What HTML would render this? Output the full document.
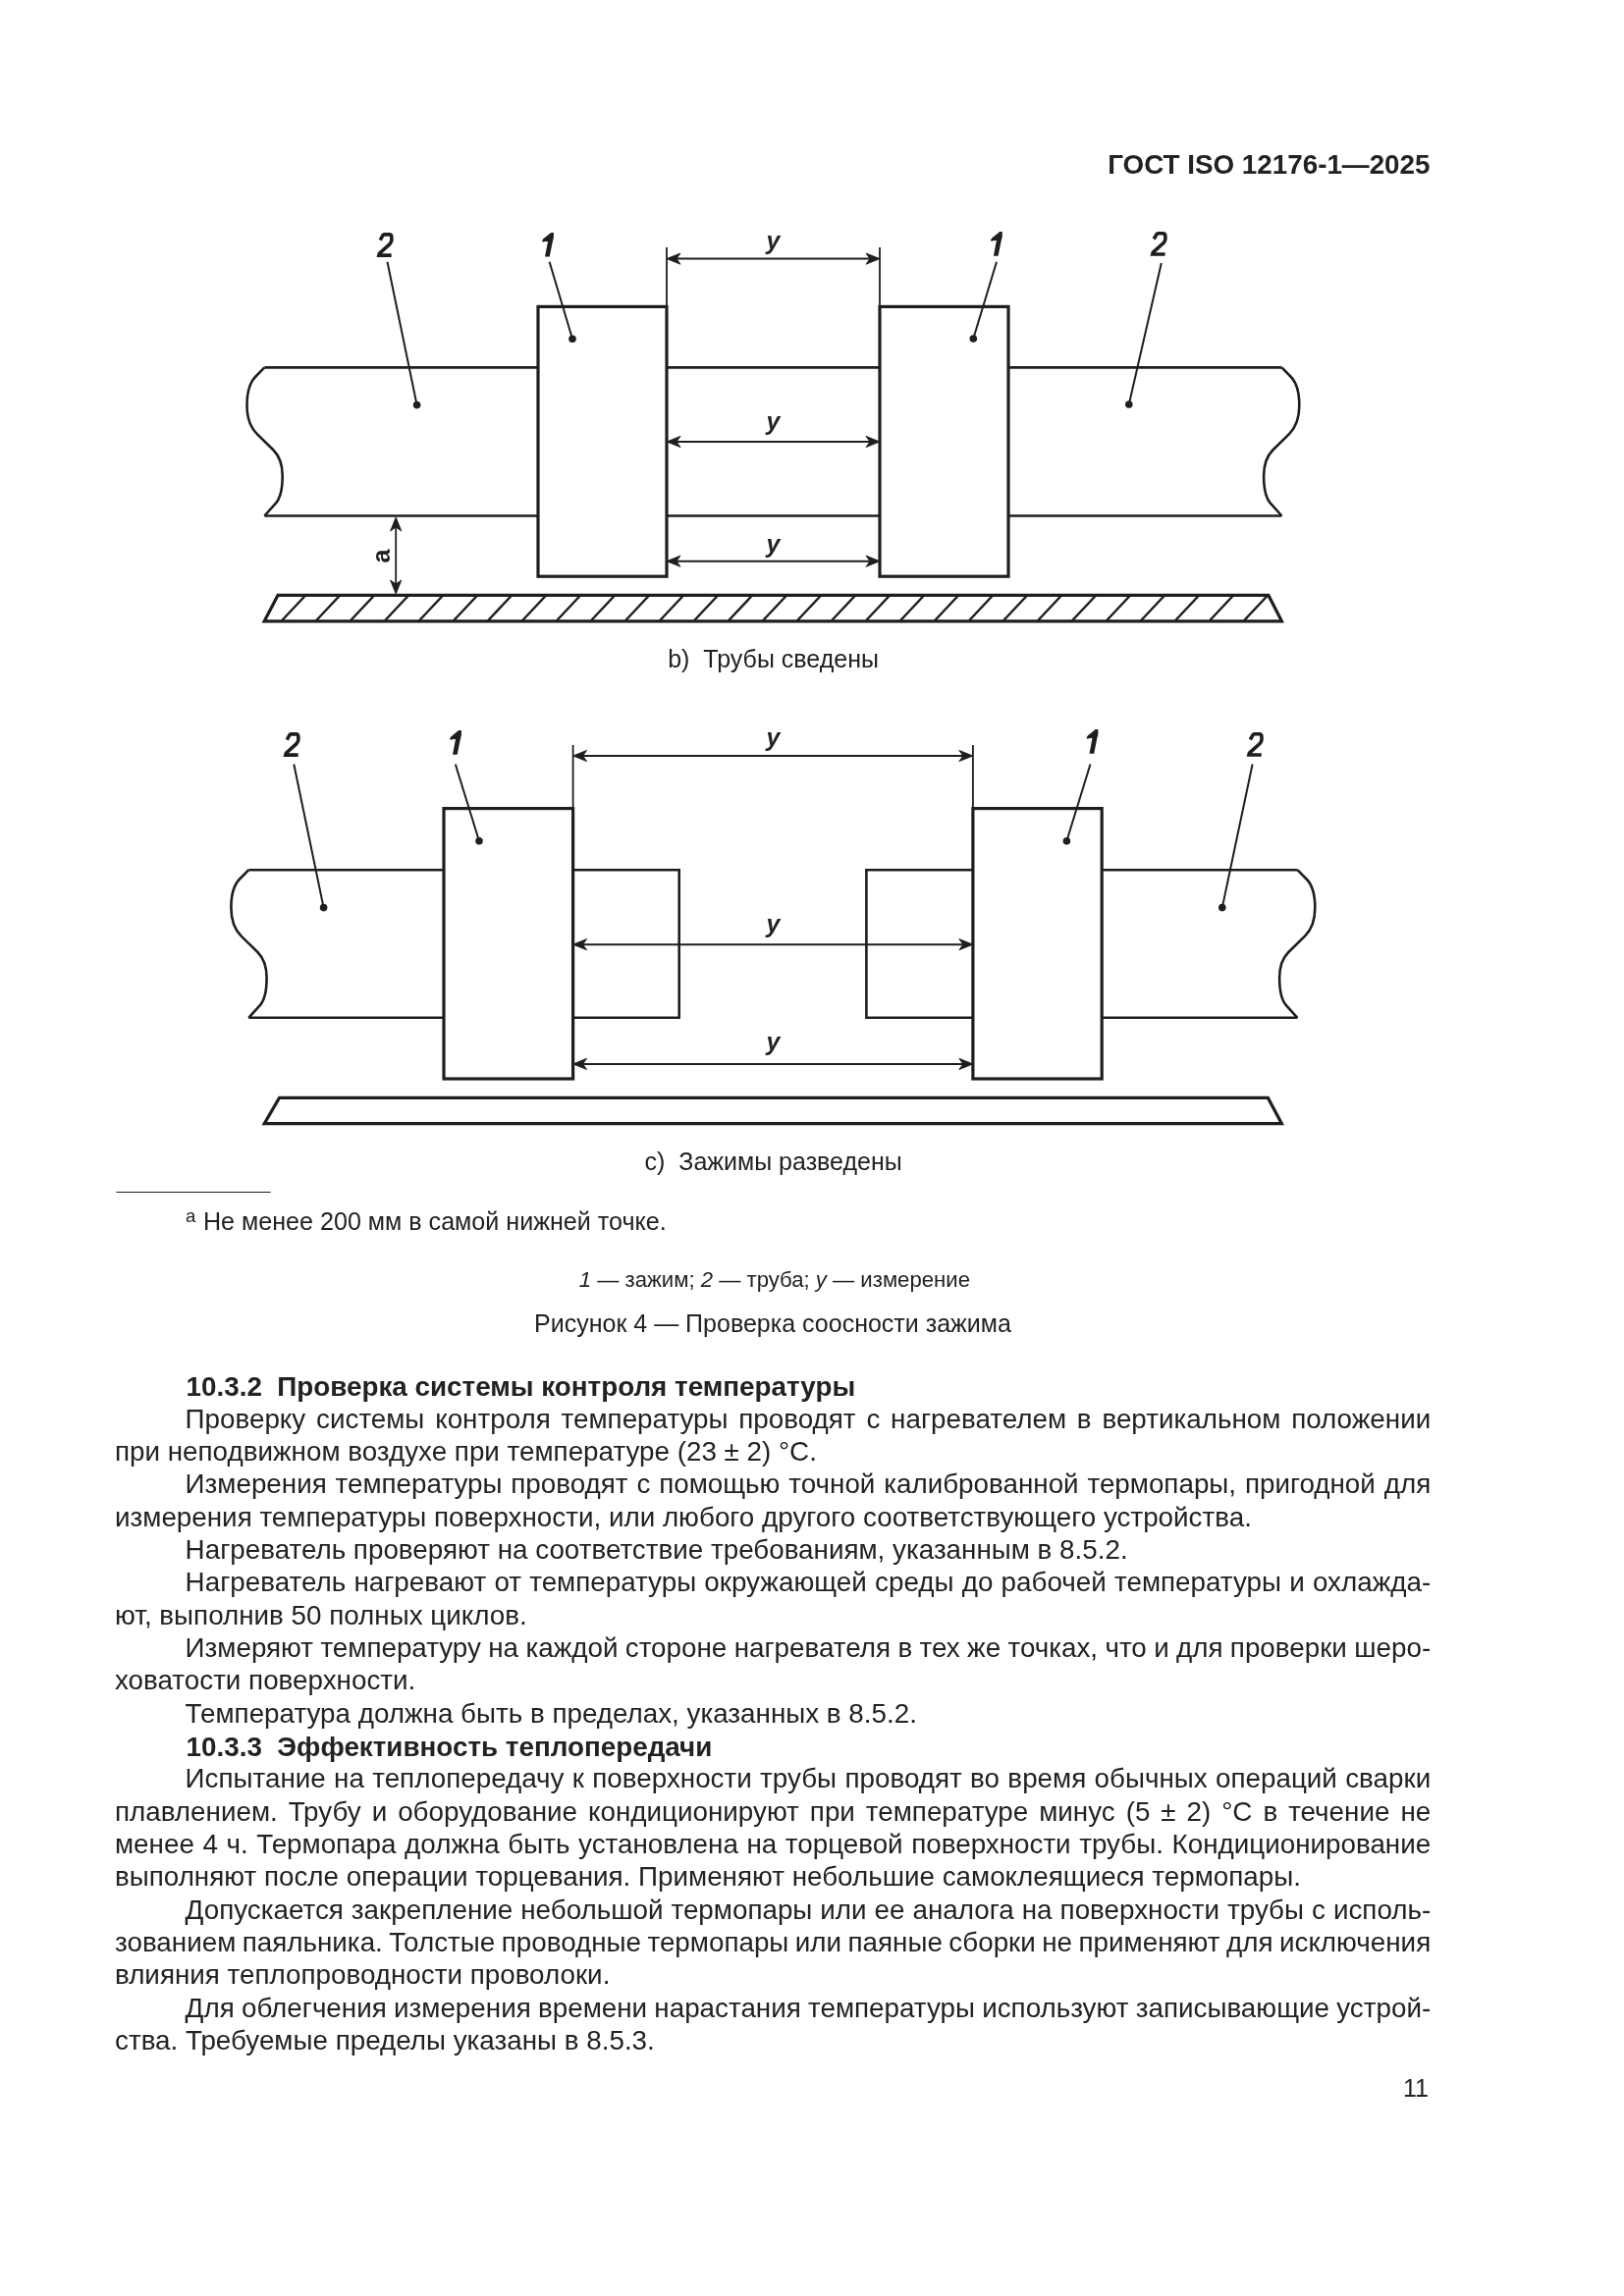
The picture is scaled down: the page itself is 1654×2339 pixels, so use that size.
<!DOCTYPE html>
<html><head><meta charset="utf-8">
<style>
html,body{margin:0;padding:0;background:#fff;}
body{width:1654px;height:2339px;position:relative;overflow:hidden;font-family:"Liberation Sans",sans-serif;color:#222;}
.ln{position:absolute;font-size:27.8px;line-height:27.8px;height:27.8px;white-space:pre;}
.ln.b{font-weight:bold;}
svg{position:absolute;left:0;top:0;}
.wrap{position:absolute;left:0;top:0;width:1654px;height:2339px;will-change:transform;}
svg text{font-family:"Liberation Sans",sans-serif;fill:#222;stroke:none;}
</style></head><body>
<div class="wrap"><svg width="1654" height="2339" viewBox="0 0 1654 2339" stroke="#1e1e1e" stroke-linecap="butt">
<text x="1456.5" y="176.5" font-size="27.8" font-weight="bold" text-anchor="end">ГОСТ ISO 12176-1—2025</text>
<line x1="269.4" y1="374.4" x2="548" y2="374.4" stroke-width="2.6"/>
<line x1="269.4" y1="525.5" x2="548" y2="525.5" stroke-width="2.6"/>
<path d="M269.40,374.40 L260.20,383.73 C254.54,389.41 251.50,399.98 251.50,413.03 C251.50,426.07 256.14,436.45 261.80,442.12 L278.50,458.48 C284.16,464.15 287.70,471.72 287.70,484.77 C287.70,497.81 285.86,507.78 280.20,513.46 L269.40,525.50" stroke-width="2.6" fill="none"/>
<line x1="679" y1="374.4" x2="896" y2="374.4" stroke-width="2.6"/>
<line x1="679" y1="525.5" x2="896" y2="525.5" stroke-width="2.6"/>
<line x1="1027" y1="374.4" x2="1305.4" y2="374.4" stroke-width="2.6"/>
<line x1="1027" y1="525.5" x2="1305.4" y2="525.5" stroke-width="2.6"/>
<path d="M1305.40,374.40 L1314.60,383.73 C1320.26,389.41 1323.30,399.98 1323.30,413.03 C1323.30,426.07 1318.66,436.45 1313.00,442.12 L1296.30,458.48 C1290.64,464.15 1287.10,471.72 1287.10,484.77 C1287.10,497.81 1288.94,507.78 1294.60,513.46 L1305.40,525.50" stroke-width="2.6" fill="none"/>
<rect x="548" y="312.4" width="131" height="274.80000000000007" stroke-width="3.2" fill="none"/>
<rect x="896" y="312.4" width="131" height="274.80000000000007" stroke-width="3.2" fill="none"/>
<line x1="679" y1="252" x2="679" y2="312.4" stroke-width="1.8"/>
<line x1="896" y1="252" x2="896" y2="312.4" stroke-width="1.8"/>
<line x1="683" y1="263.6" x2="892" y2="263.6" stroke-width="2"/>
<path d="M679,263.6 L693.0,258.0 L689.0,263.6 L693.0,269.20000000000005 Z" fill="#1e1e1e" stroke-width="0.9" stroke-linejoin="round"/>
<path d="M896,263.6 L882.0,258.0 L886.0,263.6 L882.0,269.20000000000005 Z" fill="#1e1e1e" stroke-width="0.9" stroke-linejoin="round"/>
<line x1="683" y1="450" x2="892" y2="450" stroke-width="2"/>
<path d="M679,450 L693.0,444.4 L689.0,450 L693.0,455.6 Z" fill="#1e1e1e" stroke-width="0.9" stroke-linejoin="round"/>
<path d="M896,450 L882.0,444.4 L886.0,450 L882.0,455.6 Z" fill="#1e1e1e" stroke-width="0.9" stroke-linejoin="round"/>
<line x1="683" y1="571.7" x2="892" y2="571.7" stroke-width="2"/>
<path d="M679,571.7 L693.0,566.1 L689.0,571.7 L693.0,577.3000000000001 Z" fill="#1e1e1e" stroke-width="0.9" stroke-linejoin="round"/>
<path d="M896,571.7 L882.0,566.1 L886.0,571.7 L882.0,577.3000000000001 Z" fill="#1e1e1e" stroke-width="0.9" stroke-linejoin="round"/>
<text x="787.5" y="253.7" font-size="25" text-anchor="middle" style="font-style:italic;font-weight:bold" >y</text>
<text x="787.5" y="438" font-size="25" text-anchor="middle" style="font-style:italic;font-weight:bold" >y</text>
<text x="787.5" y="562.5" font-size="25" text-anchor="middle" style="font-style:italic;font-weight:bold" >y</text>
<path d="M387.20,244.60 L390.00,239.60 Q390.80,238.85 392.00,238.85 L396.40,238.85 Q398.85,238.85 398.85,241.80 L398.85,244.60 Q398.85,246.60 397.00,248.60 L386.40,258.20 L385.85,260.10 L398.65,260.10" fill="none" stroke-width="3.6" stroke-linejoin="miter" stroke-miterlimit="3"/>
<polygon points="561.20,237.00 563.90,237.00 563.90,241.80 562.70,246.70 559.70,261.60 555.00,261.60 558.00,246.00 555.90,245.90 552.60,246.60 552.10,245.40 553.30,243.30" fill="#1e1e1e" stroke="none"/>
<polygon points="1018.10,236.10 1020.80,236.10 1020.80,240.90 1019.60,245.80 1016.60,260.70 1011.90,260.70 1014.90,245.10 1012.80,245.00 1009.50,245.70 1009.00,244.50 1010.20,242.40" fill="#1e1e1e" stroke="none"/>
<path d="M1175.20,243.50 L1178.00,238.50 Q1178.80,237.75 1180.00,237.75 L1184.40,237.75 Q1186.85,237.75 1186.85,240.70 L1186.85,243.50 Q1186.85,245.50 1185.00,247.50 L1174.40,257.10 L1173.85,259.00 L1186.65,259.00" fill="none" stroke-width="3.6" stroke-linejoin="miter" stroke-miterlimit="3"/>
<line x1="394.5" y1="266.8" x2="424.6" y2="412.6" stroke-width="2"/>
<circle cx="424.6" cy="412.6" r="3.8" fill="#1e1e1e" stroke="none"/>
<line x1="559.6" y1="266.8" x2="583" y2="345.3" stroke-width="2"/>
<circle cx="583" cy="345.3" r="3.8" fill="#1e1e1e" stroke="none"/>
<line x1="1015" y1="266.8" x2="991.3" y2="345" stroke-width="2"/>
<circle cx="991.3" cy="345" r="3.8" fill="#1e1e1e" stroke="none"/>
<line x1="1182.8" y1="268" x2="1149.8" y2="412" stroke-width="2"/>
<circle cx="1149.8" cy="412" r="3.8" fill="#1e1e1e" stroke="none"/>
<path d="M283,606.4 L1291.9,606.4 L1305.4,632.8 L269.2,632.8 Z" stroke-width="3.2" fill="none"/>
<line x1="287.2" y1="632.0" x2="310.7" y2="607.0" stroke-width="2.5"/>
<line x1="322.2" y1="632.0" x2="345.7" y2="607.0" stroke-width="2.5"/>
<line x1="357.2" y1="632.0" x2="380.7" y2="607.0" stroke-width="2.5"/>
<line x1="392.2" y1="632.0" x2="415.7" y2="607.0" stroke-width="2.5"/>
<line x1="427.2" y1="632.0" x2="450.7" y2="607.0" stroke-width="2.5"/>
<line x1="462.2" y1="632.0" x2="485.7" y2="607.0" stroke-width="2.5"/>
<line x1="497.2" y1="632.0" x2="520.7" y2="607.0" stroke-width="2.5"/>
<line x1="532.2" y1="632.0" x2="555.7" y2="607.0" stroke-width="2.5"/>
<line x1="567.2" y1="632.0" x2="590.7" y2="607.0" stroke-width="2.5"/>
<line x1="602.2" y1="632.0" x2="625.7" y2="607.0" stroke-width="2.5"/>
<line x1="637.2" y1="632.0" x2="660.7" y2="607.0" stroke-width="2.5"/>
<line x1="672.2" y1="632.0" x2="695.7" y2="607.0" stroke-width="2.5"/>
<line x1="707.2" y1="632.0" x2="730.7" y2="607.0" stroke-width="2.5"/>
<line x1="742.2" y1="632.0" x2="765.7" y2="607.0" stroke-width="2.5"/>
<line x1="777.2" y1="632.0" x2="800.7" y2="607.0" stroke-width="2.5"/>
<line x1="812.2" y1="632.0" x2="835.7" y2="607.0" stroke-width="2.5"/>
<line x1="847.2" y1="632.0" x2="870.7" y2="607.0" stroke-width="2.5"/>
<line x1="882.2" y1="632.0" x2="905.7" y2="607.0" stroke-width="2.5"/>
<line x1="917.2" y1="632.0" x2="940.7" y2="607.0" stroke-width="2.5"/>
<line x1="952.2" y1="632.0" x2="975.7" y2="607.0" stroke-width="2.5"/>
<line x1="987.2" y1="632.0" x2="1010.7" y2="607.0" stroke-width="2.5"/>
<line x1="1022.2" y1="632.0" x2="1045.7" y2="607.0" stroke-width="2.5"/>
<line x1="1057.2" y1="632.0" x2="1080.7" y2="607.0" stroke-width="2.5"/>
<line x1="1092.2" y1="632.0" x2="1115.7" y2="607.0" stroke-width="2.5"/>
<line x1="1127.2" y1="632.0" x2="1150.7" y2="607.0" stroke-width="2.5"/>
<line x1="1162.2" y1="632.0" x2="1185.7" y2="607.0" stroke-width="2.5"/>
<line x1="1197.2" y1="632.0" x2="1220.7" y2="607.0" stroke-width="2.5"/>
<line x1="1232.2" y1="632.0" x2="1255.7" y2="607.0" stroke-width="2.5"/>
<line x1="1267.2" y1="632.0" x2="1290.7" y2="607.0" stroke-width="2.5"/>
<line x1="403.2" y1="529" x2="403.2" y2="603" stroke-width="1.8"/>
<path d="M403.2,527 L397.59999999999997,541.0 L403.2,537.0 L408.8,541.0 Z" fill="#1e1e1e" stroke-width="0.9" stroke-linejoin="round"/>
<path d="M403.2,605 L397.59999999999997,591.0 L403.2,595.0 L408.8,591.0 Z" fill="#1e1e1e" stroke-width="0.9" stroke-linejoin="round"/>
<text x="0" y="0" font-size="25" text-anchor="middle" style="font-weight:bold" transform="translate(397,566.5) rotate(-90)">a</text>
<line x1="253.3" y1="886.2" x2="452" y2="886.2" stroke-width="2.6"/>
<line x1="253.3" y1="1036.8" x2="452" y2="1036.8" stroke-width="2.6"/>
<path d="M253.30,886.20 L244.10,895.50 C238.44,901.16 235.40,911.70 235.40,924.70 C235.40,937.70 240.04,948.04 245.70,953.70 L262.40,970.00 C268.06,975.66 271.60,983.20 271.60,996.20 C271.60,1009.20 269.76,1019.14 264.10,1024.80 L253.30,1036.80" stroke-width="2.6" fill="none"/>
<path d="M583.6,886.2 L691.7,886.2 L691.7,1036.8 L583.6,1036.8" stroke-width="2.6" fill="none"/>
<path d="M990.9,886.2 L882.4,886.2 L882.4,1036.8 L990.9,1036.8" stroke-width="2.6" fill="none"/>
<line x1="1122.2" y1="886.2" x2="1321.4" y2="886.2" stroke-width="2.6"/>
<line x1="1122.2" y1="1036.8" x2="1321.4" y2="1036.8" stroke-width="2.6"/>
<path d="M1321.40,886.20 L1330.60,895.50 C1336.26,901.16 1339.30,911.70 1339.30,924.70 C1339.30,937.70 1334.66,948.04 1329.00,953.70 L1312.30,970.00 C1306.64,975.66 1303.10,983.20 1303.10,996.20 C1303.10,1009.20 1304.94,1019.14 1310.60,1024.80 L1321.40,1036.80" stroke-width="2.6" fill="none"/>
<rect x="452" y="823.6" width="131.60000000000002" height="275.4" stroke-width="3.2" fill="none"/>
<rect x="990.9" y="823.6" width="131.30000000000007" height="275.4" stroke-width="3.2" fill="none"/>
<line x1="583.6" y1="759" x2="583.6" y2="823.6" stroke-width="1.8"/>
<line x1="990.9" y1="759" x2="990.9" y2="823.6" stroke-width="1.8"/>
<line x1="587.6" y1="770.0" x2="986.9" y2="770.0" stroke-width="2"/>
<path d="M583.6,770.0 L597.6,764.4 L593.6,770.0 L597.6,775.6 Z" fill="#1e1e1e" stroke-width="0.9" stroke-linejoin="round"/>
<path d="M990.9,770.0 L976.9,764.4 L980.9,770.0 L976.9,775.6 Z" fill="#1e1e1e" stroke-width="0.9" stroke-linejoin="round"/>
<line x1="587.6" y1="962.2" x2="986.9" y2="962.2" stroke-width="2"/>
<path d="M583.6,962.2 L597.6,956.6 L593.6,962.2 L597.6,967.8000000000001 Z" fill="#1e1e1e" stroke-width="0.9" stroke-linejoin="round"/>
<path d="M990.9,962.2 L976.9,956.6 L980.9,962.2 L976.9,967.8000000000001 Z" fill="#1e1e1e" stroke-width="0.9" stroke-linejoin="round"/>
<line x1="587.6" y1="1083.9" x2="986.9" y2="1083.9" stroke-width="2"/>
<path d="M583.6,1083.9 L597.6,1078.3000000000002 L593.6,1083.9 L597.6,1089.5 Z" fill="#1e1e1e" stroke-width="0.9" stroke-linejoin="round"/>
<path d="M990.9,1083.9 L976.9,1078.3000000000002 L980.9,1083.9 L976.9,1089.5 Z" fill="#1e1e1e" stroke-width="0.9" stroke-linejoin="round"/>
<text x="787.5" y="760" font-size="25" text-anchor="middle" style="font-style:italic;font-weight:bold" >y</text>
<text x="787.5" y="950" font-size="25" text-anchor="middle" style="font-style:italic;font-weight:bold" >y</text>
<text x="787.5" y="1070.2" font-size="25" text-anchor="middle" style="font-style:italic;font-weight:bold" >y</text>
<path d="M292.20,753.60 L295.00,748.60 Q295.80,747.85 297.00,747.85 L301.40,747.85 Q303.85,747.85 303.85,750.80 L303.85,753.60 Q303.85,755.60 302.00,757.60 L291.40,767.20 L290.85,769.10 L303.65,769.10" fill="none" stroke-width="3.6" stroke-linejoin="miter" stroke-miterlimit="3"/>
<polygon points="467.20,744.10 469.90,744.10 469.90,748.90 468.70,753.80 465.70,768.70 461.00,768.70 464.00,753.10 461.90,753.00 458.60,753.70 458.10,752.50 459.30,750.40" fill="#1e1e1e" stroke="none"/>
<polygon points="1115.70,743.10 1118.40,743.10 1118.40,747.90 1117.20,752.80 1114.20,767.70 1109.50,767.70 1112.50,752.10 1110.40,752.00 1107.10,752.70 1106.60,751.50 1107.80,749.40" fill="#1e1e1e" stroke="none"/>
<path d="M1273.30,753.50 L1276.10,748.50 Q1276.90,747.75 1278.10,747.75 L1282.50,747.75 Q1284.95,747.75 1284.95,750.70 L1284.95,753.50 Q1284.95,755.50 1283.10,757.50 L1272.50,767.10 L1271.95,769.00 L1284.75,769.00" fill="none" stroke-width="3.6" stroke-linejoin="miter" stroke-miterlimit="3"/>
<line x1="299.3" y1="778.5" x2="329.6" y2="924.6" stroke-width="2"/>
<circle cx="329.6" cy="924.6" r="3.8" fill="#1e1e1e" stroke="none"/>
<line x1="463.8" y1="778.5" x2="488" y2="856.8" stroke-width="2"/>
<circle cx="488" cy="856.8" r="3.8" fill="#1e1e1e" stroke="none"/>
<line x1="1110.5" y1="778.5" x2="1086.4" y2="856.8" stroke-width="2"/>
<circle cx="1086.4" cy="856.8" r="3.8" fill="#1e1e1e" stroke="none"/>
<line x1="1275.6" y1="778.5" x2="1244.8" y2="924.6" stroke-width="2"/>
<circle cx="1244.8" cy="924.6" r="3.8" fill="#1e1e1e" stroke="none"/>
<path d="M284.5,1118.4 L1291.4,1118.4 L1305.4,1144.7 L269.2,1144.7 Z" stroke-width="3.2" fill="none"/>
<text x="680.2" y="679.9" font-size="25" xml:space="preserve">b)  Трубы сведены</text>
<text x="656.6" y="1191.6" font-size="25" xml:space="preserve">c)  Зажимы разведены</text>
<line x1="118.5" y1="1214.5" x2="275.6" y2="1214.5" stroke-width="1.2"/>
<text x="189" y="1244.5" font-size="18.5">a</text>
<text x="207" y="1253" font-size="25.1">Не менее 200 мм в самой нижней точке.</text>
<text x="589.8" y="1310.8" font-size="22.15"><tspan font-style="italic">1</tspan> — зажим; <tspan font-style="italic">2</tspan> — труба; <tspan font-style="italic">y</tspan> — измерение</text>
<text x="544.1" y="1357" font-size="25">Рисунок 4 — Проверка соосности зажима</text>
<text x="1455" y="2136" font-size="25" text-anchor="end">11</text>
</svg>
<div class="ln b" style="top:1399.17px;left:189.6px;">10.3.2&nbsp;&nbsp;Проверка системы контроля температуры</div>
<div class="ln" style="top:1431.60px;left:188.6px;word-spacing:3.101px;">Проверку системы контроля температуры проводят с нагревателем в вертикальном положении</div>
<div class="ln" style="top:1464.93px;left:117.0px;">при неподвижном воздухе при температуре (23 ± 2) °С.</div>
<div class="ln" style="top:1498.27px;left:188.6px;word-spacing:1.119px;">Измерения температуры проводят с помощью точной калиброванной термопары, пригодной для</div>
<div class="ln" style="top:1531.60px;left:117.0px;">измерения температуры поверхности, или любого другого соответствующего устройства.</div>
<div class="ln" style="top:1564.93px;left:188.6px;">Нагреватель проверяют на соответствие требованиям, указанным в 8.5.2.</div>
<div class="ln" style="top:1598.27px;left:188.6px;word-spacing:0.529px;">Нагреватель нагревают от температуры окружающей среды до рабочей температуры и охлажда-</div>
<div class="ln" style="top:1631.60px;left:117.0px;">ют, выполнив 50 полных циклов.</div>
<div class="ln" style="top:1664.93px;left:188.6px;word-spacing:-0.368px;">Измеряют температуру на каждой стороне нагревателя в тех же точках, что и для проверки шеро-</div>
<div class="ln" style="top:1698.26px;left:117.0px;">ховатости поверхности.</div>
<div class="ln" style="top:1731.60px;left:188.6px;">Температура должна быть в пределах, указанных в 8.5.2.</div>
<div class="ln b" style="top:1765.83px;left:189.6px;">10.3.3&nbsp;&nbsp;Эффективность теплопередачи</div>
<div class="ln" style="top:1798.26px;left:188.6px;word-spacing:0.636px;">Испытание на теплопередачу к поверхности трубы проводят во время обычных операций сварки</div>
<div class="ln" style="top:1831.60px;left:117.0px;word-spacing:3.255px;">плавлением. Трубу и оборудование кондиционируют при температуре минус (5 ± 2) °С в течение не</div>
<div class="ln" style="top:1864.93px;left:117.0px;word-spacing:0.845px;">менее 4 ч. Термопара должна быть установлена на торцевой поверхности трубы. Кондиционирование</div>
<div class="ln" style="top:1898.26px;left:117.0px;">выполняют после операции торцевания. Применяют небольшие самоклеящиеся термопары.</div>
<div class="ln" style="top:1931.60px;left:188.6px;word-spacing:0.278px;">Допускается закрепление небольшой термопары или ее аналога на поверхности трубы с исполь-</div>
<div class="ln" style="top:1964.93px;left:117.0px;word-spacing:-1.250px;">зованием паяльника. Толстые проводные термопары или паяные сборки не применяют для исключения</div>
<div class="ln" style="top:1998.26px;left:117.0px;">влияния теплопроводности проволоки.</div>
<div class="ln" style="top:2031.59px;left:188.6px;word-spacing:-0.470px;">Для облегчения измерения времени нарастания температуры используют записывающие устрой-</div>
<div class="ln" style="top:2064.93px;left:117.0px;">ства. Требуемые пределы указаны в 8.5.3.</div>
</div></body></html>
